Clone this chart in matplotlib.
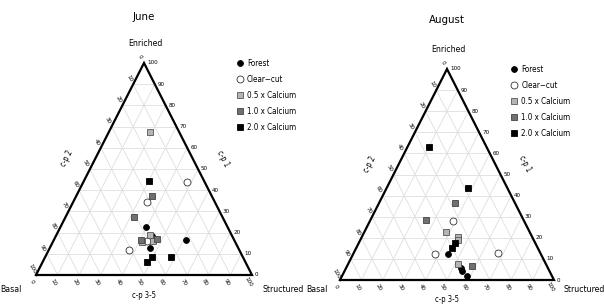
import numpy as np
from matplotlib import pyplot as plt
from matplotlib.lines import Line2D

plt.rcParams['font.family'] = ['Liberation Sans Narrow', 'DejaVu Sans']
plt.rcParams['font.stretch'] = 'condensed'

# ternary data: cp1 = Enriched %, cp35 = Structured % (Basal = rest)
groups = ['Forest', 'Clear\u2212cut', '0.5 x Calcium', '1.0 x Calcium', '2.0 x Calcium']

june_cp1 = {
    'Forest': [22.5, 18.4, 12.9, 16.5],
    'Clear\u2212cut': [43.9, 34.3, 16.0, 11.8],
    '0.5 x Calcium': [67.5, 18.9, 15.6, 16.2],
    '1.0 x Calcium': [37.3, 27.2, 16.5, 17.0],
    '2.0 x Calcium': [44.5, 8.6, 6.0, 8.3],
}
june_cp35 = {
    'Forest': [39.7, 44.5, 46.5, 61.0],
    'Clear\u2212cut': [47.8, 34.4, 43.2, 37.3],
    '0.5 x Calcium': [19.0, 43.3, 41.1, 46.2],
    '1.0 x Calcium': [34.9, 31.8, 40.2, 47.4],
    '2.0 x Calcium': [30.2, 49.3, 48.2, 58.3],
}
aug_cp1 = {
    'Forest': [12.3, 5.5, 4.4, 2.0],
    'Clear\u2212cut': [28.1, 12.2, 12.7],
    '0.5 x Calcium': [22.9, 20.5, 19.0, 7.4],
    '1.0 x Calcium': [36.4, 28.4, 6.8],
    '2.0 x Calcium': [62.9, 43.5, 17.4, 15.3],
}
aug_cp35 = {
    'Forest': [44.2, 53.8, 55.0, 58.5],
    'Clear\u2212cut': [38.9, 38.3, 67.5],
    '0.5 x Calcium': [37.9, 45.0, 45.8, 51.6],
    '1.0 x Calcium': [35.5, 26.0, 58.4],
    '2.0 x Calcium': [10.3, 38.2, 45.0, 44.8],
}

styles = {
    'Forest': dict(marker='o', mfc='black', mec='black', ms=4.2, mew=0.6),
    'Clear\u2212cut': dict(marker='o', mfc='white', mec='#333333', ms=5, mew=0.6),
    '0.5 x Calcium': dict(marker='s', mfc='#b4b4b4', mec='#555555', ms=4.8, mew=0.6),
    '1.0 x Calcium': dict(marker='s', mfc='#707070', mec='#444444', ms=4.8, mew=0.6),
    '2.0 x Calcium': dict(marker='s', mfc='black', mec='black', ms=4.8, mew=0.6),
}

ticks = np.arange(0, 101, 10)
PX = 72 / 100  # pixel -> points


def tern(e, s):
    e = np.asarray(e, float)
    s = np.asarray(s, float)
    return s / 100 + e / 200, e / 100


def draw_panel(ax, title, cp1, cp35, title_px, basal_off, struct_off, leg_x):
    ax.set_xlim(0, 1)
    ax.set_ylim(0, 1)
    ax.axis('off')

    gkw = dict(color='#dedede', lw=0.6, zorder=1)
    for v in ticks[1:-1]:
        ax.plot([v / 200, 1 - v / 200], [v / 100, v / 100], **gkw)
        ax.plot([v / 100, v / 100 + (100 - v) / 200], [0, (100 - v) / 100], **gkw)
        ax.plot([1 - v / 100, (100 - v) / 200], [0, (100 - v) / 100], **gkw)
    ax.plot([0, 1, 0.5, 0], [0, 0, 1, 0], color='black', lw=1.6, zorder=2,
            solid_joinstyle='miter', clip_on=False)

    tk = dict(fontsize=4.5, textcoords='offset points', annotation_clip=False)
    for v in ticks:
        # c-p 1 (right edge)
        ax.annotate(str(v), (1 - v / 200, v / 100), xytext=(3 * PX, 0),
                    ha='left', va='center', **tk)
        # c-p 2 (left edge)
        ax.annotate(str(v), ((100 - v) / 200, (100 - v) / 100),
                    xytext=(-4 * PX, 6 * PX), ha='center', va='center',
                    rotation=-60, **tk)
        # c-p 3-5 (bottom edge)
        ax.annotate(str(v), (v / 100, 0), xytext=(-4 * PX, -7 * PX),
                    ha='center', va='center', rotation=-60, **tk)

    lk = dict(fontsize=5.5, textcoords='offset points', annotation_clip=False,
              ha='center', va='center')
    ax.annotate('c-p 3-5', (0.5, 0), xytext=(0, -20 * PX), **lk)
    ax.annotate('c-p 2', (0.225, 0.55), xytext=(-18 * PX, 0), rotation=63, **lk)
    ax.annotate('c-p 1', (0.775, 0.55), xytext=(19 * PX, 0), rotation=-63, **lk)

    ck = dict(textcoords='offset points', annotation_clip=False,
              ha='center', va='center')
    ax.annotate('Enriched', (0.5, 1), xytext=(1 * PX, 19 * PX), fontsize=6.2, **ck)
    ax.annotate('Basal', (0, 0), xytext=(basal_off[0] * PX, basal_off[1] * PX),
                fontsize=6.2, **ck)
    ax.annotate('Structured', (1, 0), xytext=(struct_off[0] * PX, struct_off[1] * PX),
                fontsize=6.2, **ck)
    ax.annotate(title, (0.5, 1), xytext=(0, title_px * PX), fontsize=8.2, **ck)

    for g in groups:
        x, y = tern(cp1[g], cp35[g])
        ax.plot(x, y, ls='none', zorder=3, clip_on=False, **styles[g])

    handles = [Line2D([], [], ls='none', **styles[g]) for g in groups]
    ax.legend(handles, groups, loc='upper left', bbox_to_anchor=(leg_x, 1.035),
              frameon=False, fontsize=5.8, handlelength=0.8, handletextpad=0.45,
              labelspacing=0.86, borderaxespad=0)


fig = plt.figure(figsize=(6.04, 3.04), dpi=100)
W, H = 604, 304
ax1 = fig.add_axes([36 / W, (H - 275) / H, 216 / W, 212 / H])
ax2 = fig.add_axes([340 / W, (H - 280) / H, 214 / W, 211 / H])

draw_panel(ax1, 'June', june_cp1, june_cp35, 46, (-25, -14), (31, -14), 0.915)
draw_panel(ax2, 'August', aug_cp1, aug_cp35, 49, (-23, -9), (30, -9), 0.785)

fig.savefig('out.png', dpi=100)
